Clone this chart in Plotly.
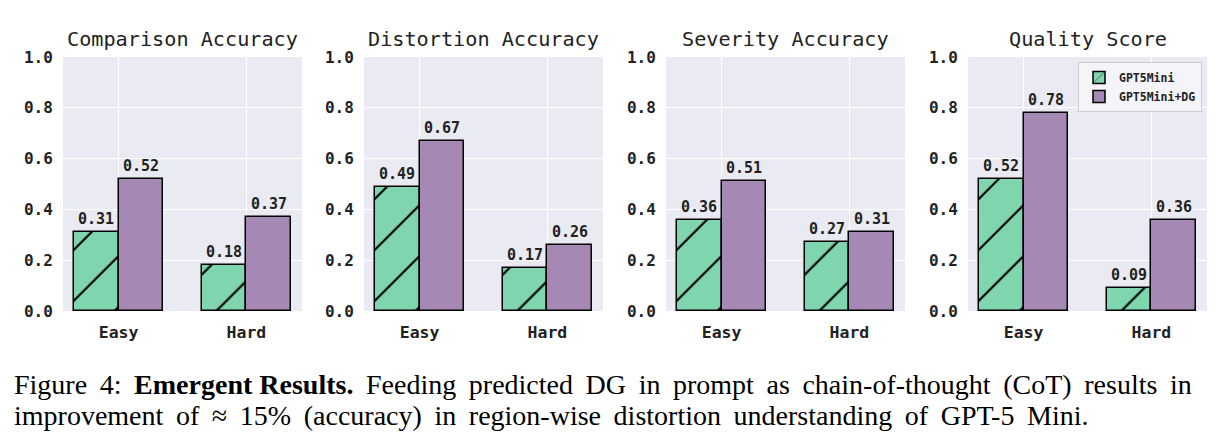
import plotly.graph_objects as go
from plotly.subplots import make_subplots

panels = ["Comparison Accuracy", "Distortion Accuracy", "Severity Accuracy", "Quality Score"]
categories = ["Easy", "Hard"]
gpt5mini = [[0.31, 0.18], [0.49, 0.17], [0.36, 0.27], [0.52, 0.09]]
gpt5mini_dg = [[0.52, 0.37], [0.67, 0.26], [0.51, 0.31], [0.78, 0.36]]
series_names = ["GPT5Mini", "GPT5Mini+DG"]
yticks = [0.0, 0.2, 0.4, 0.6, 0.8, 1.0]
caption1 = "Figure 4: <b>Emergent Results.</b> Feeding predicted DG in prompt as chain-of-thought (CoT) results in"
caption2 = "improvement of ≈ 15% (accuracy) in region-wise distortion understanding of GPT-5 Mini."

W, H = 1225, 448
GREEN = "#7fd5ae"
PURPLE = "#a688b4"
BG = "#eaeaf2"
MONO = "DejaVu Sans Mono"
BAR_W = 0.35

fig = make_subplots(rows=1, cols=4)
xpos = list(range(len(categories)))
left_px = [63, 364, 666, 968]
panel_w = 239
y_top, y_bot = 57, 311

for i in range(4):
    fig.add_trace(go.Bar(
        x=xpos, y=gpt5mini[i], name=series_names[0], offset=-BAR_W, width=BAR_W,
        marker=dict(color=GREEN, line=dict(color="black", width=1.5),
                    pattern=dict(shape="/", fgcolor="black", fgopacity=1, bgcolor=GREEN,
                                 size=36, solidity=0.06)),
        showlegend=(i == 3), legendgroup="a"), row=1, col=i + 1)
    fig.add_trace(go.Bar(
        x=xpos, y=gpt5mini_dg[i], name=series_names[1], offset=0, width=BAR_W,
        marker=dict(color=PURPLE, line=dict(color="black", width=1.5)),
        showlegend=(i == 3), legendgroup="b"), row=1, col=i + 1)
    xa = "x" if i == 0 else f"x{i+1}"
    ya = "y" if i == 0 else f"y{i+1}"
    for j, c in enumerate(xpos):
        for vals, off in ((gpt5mini[i], -BAR_W / 2), (gpt5mini_dg[i], BAR_W / 2)):
            fig.add_annotation(x=c + off, y=vals[j], xref=xa, yref=ya, text=f"{vals[j]:.2f}",
                               showarrow=False, yanchor="bottom", yshift=2,
                               font=dict(family=MONO, size=15, color="#222", weight="bold"))
    # title
    fig.add_annotation(x=(left_px[i] + panel_w / 2) / W, y=1 - 39 / H, xref="paper", yref="paper",
                       text=panels[i], showarrow=False, xanchor="center", yanchor="middle",
                       font=dict(family=MONO, size=20.2, color="#222"))
    dom = [left_px[i] / W, (left_px[i] + panel_w) / W]
    fig.update_xaxes(domain=dom, range=[-0.435, 1.435], tickvals=xpos, ticktext=categories,
                     showgrid=True, gridcolor="white", gridwidth=1.2, zeroline=False,
                     tickfont=dict(family=MONO, size=16.5, color="#222", weight="bold"),
                     ticks="outside", ticklen=6, tickcolor="rgba(0,0,0,0)",
                     showline=False, automargin=False, row=1, col=i + 1)
    fig.update_yaxes(domain=[1 - y_bot / H, 1 - y_top / H], range=[0, 1], tickvals=yticks,
                     tickformat=".1f", showgrid=True, gridcolor="white", gridwidth=1.2,
                     zeroline=False, showline=False, automargin=False,
                     tickfont=dict(family=MONO, size=16, color="#222", weight="bold"),
                     ticks="outside", ticklen=6, tickcolor="rgba(0,0,0,0)",
                     row=1, col=i + 1)

# justified-looking caption: widen word gaps slightly with a thin space
gap = " \u2009"
fig.add_annotation(x=12 / W, y=1 - 384 / H, xref="paper", yref="paper",
                   text=caption1.replace(" ", gap).replace("<b>Emergent" + gap, "<b>Emergent "),
                   showarrow=False, xanchor="left", yanchor="middle",
                   font=dict(family="Liberation Serif", size=28, color="black"))
fig.add_annotation(x=12 / W, y=1 - 415 / H, xref="paper", yref="paper",
                   text=caption2.replace(" ", gap),
                   showarrow=False, xanchor="left", yanchor="middle",
                   font=dict(family="Liberation Serif", size=28, color="black"))

fig.update_layout(
    width=W, height=H, margin=dict(l=0, r=0, t=0, b=0, autoexpand=False),
    paper_bgcolor="white", plot_bgcolor=BG, barmode="overlay", bargap=0,
    legend=dict(x=1202 / W, y=1 - 62 / H, xanchor="right", yanchor="top",
                bgcolor="rgba(245,245,249,0.9)", bordercolor="#cccccc", borderwidth=1,
                font=dict(family=MONO, size=11.5, color="#222", weight="bold"),
                tracegroupgap=0, itemwidth=30),
    showlegend=True,
)

fig.write_html("out.html")
